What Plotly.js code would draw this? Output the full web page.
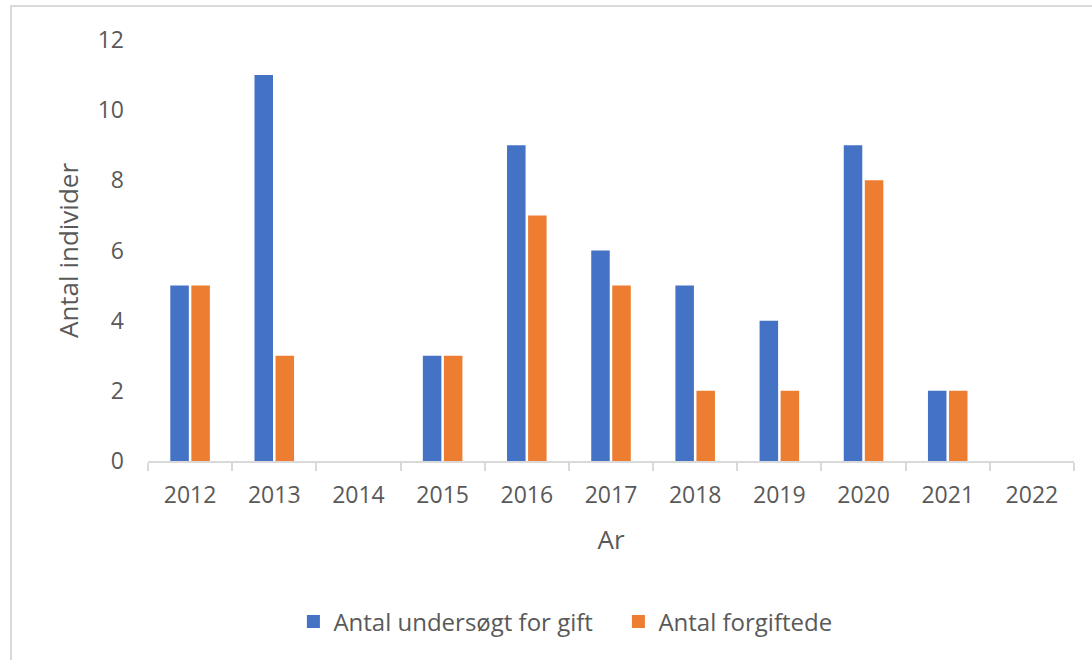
<!DOCTYPE html>
<html>
<head>
<meta charset="utf-8">
<script src="https://cdn.plot.ly/plotly-3.0.1.min.js"></script>
<style>
html,body{margin:0;padding:0;background:#fff;}
#wrap{position:relative;width:1092px;height:660px;}
#chart{position:absolute;left:0;top:0;width:1092px;height:660px;}
#frame{position:absolute;left:10px;top:5px;width:1100px;height:700px;border-left:2px solid #d9d9d9;border-top:2px solid #d9d9d9;pointer-events:none;}
</style>
</head>
<body>
<div id="wrap"><div id="chart"></div><div id="frame"></div></div>
<script>
const years = ['2012','2013','2014','2015','2016','2017','2018','2019','2020','2021','2022'];
const undersoegt = [5, 11, 0, 3, 9, 6, 5, 4, 9, 2, 0];
const forgiftede = [5, 3, 0, 3, 7, 5, 2, 2, 8, 2, 0];
const seriesNames = ['Antal undersøgt for gift', 'Antal forgiftede'];
const seriesColors = ['#4472C4', '#ED7D31'];

const font = 'Open Sans, Noto Sans, sans-serif';
const data = [
  {type:'bar', x:years, y:undersoegt, name:seriesNames[0], marker:{color:seriesColors[0]}, showlegend:false},
  {type:'bar', x:years, y:forgiftede, name:seriesNames[1], marker:{color:seriesColors[1]}, showlegend:false},
  {type:'scatter', mode:'markers', x:[null], y:[null], name:seriesNames[0], marker:{symbol:'square', size:13, color:seriesColors[0]}},
  {type:'scatter', mode:'markers', x:[null], y:[null], name:seriesNames[1], marker:{symbol:'square', size:13, color:seriesColors[1]}}
];
const layout = {
  width:1092, height:660,
  paper_bgcolor:'#fff', plot_bgcolor:'#fff',
  margin:{l:148, r:18, t:40, b:199},
  barmode:'group', bargap:0.5, bargroupgap:0.12,
  font:{family:font, color:'#595959', size:20},
  showlegend:true,
  legend:{orientation:'h', x:0.508, xanchor:'center', y:-0.382, yanchor:'middle', font:{size:24, color:'#595959'}, itemwidth:30, entrywidth:280},
  xaxis:{
    type:'category', tickson:'boundaries', ticks:'outside', ticklen:8, tickwidth:2, tickcolor:'#d9d9d9',
    showline:true, linecolor:'#d9d9d9', linewidth:2, showgrid:false, zeroline:false,
    tickfont:{size:23, color:'#595959'}, ticklabelstandoff:12,
    title:{text:'Ar', font:{size:26, color:'#595959'}, standoff:22}
  },
  yaxis:{
    range:[0,12], dtick:2, showgrid:false, zeroline:false, showline:false, ticks:'',
    tickfont:{size:23, color:'#595959'}, ticklabelstandoff:23,
    title:{text:'Antal individer', font:{size:26, color:'#595959'}, standoff:11}
  }
};
Plotly.newPlot('chart', data, layout, {displayModeBar:false, staticPlot:true});
</script>
</body>
</html>
